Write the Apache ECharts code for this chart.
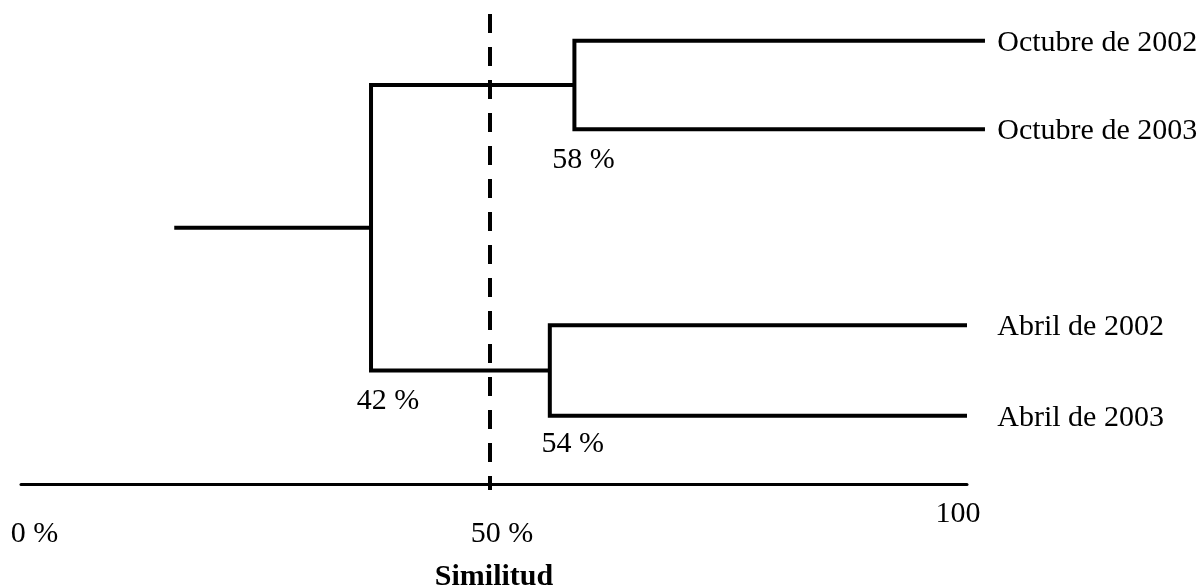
<!DOCTYPE html>
<html>
<head>
<meta charset="utf-8">
<script src="https://cdn.jsdelivr.net/npm/echarts@6/dist/echarts.min.js"></script>
<style>
html,body{margin:0;padding:0;background:#fff;}
#chart{width:1202px;height:588px;}
</style>
</head>
<body>
<div id="chart"></div>
<script>
// ---- data ----
const leafNames = ['Octubre de 2002', 'Octubre de 2003', 'Abril de 2002', 'Abril de 2003'];
const leafRow = [9.43, 7.55, 3.38, 1.45];          // vertical leaf positions (hidden axis units)
const leafReach = [101.9, 101.9, 100, 100];        // where each leaf branch ends on the similarity axis
const mergeA = [0, 2, 4];                          // first child (0-3 leaves, 4+ merges)
const mergeB = [1, 3, 5];                          // second child
const mergeLevel = [58.5, 55.9, 37.0];             // drawn similarity of each join
const mergeText = ['58 %', '54 %', '42 %'];
const rootStart = 16.2;
const cutLevel = 49.6;
const cutSpan = [10, -0.13];                       // vertical extent of the cut line (hidden axis units)
const labelColumn = 103.2;
const xTickValues = [0, 50, 100];
const xTickText = ['0 %', '50 %', '100'];
const axisTitle = 'Similitud';

// ---- styles ----
const FONT = "'Liberation Serif', 'Times New Roman', serif";
const nodeLabelOffset = [[9, 0], [23, -3], [17, 0]];

// ---- build dendrogram geometry from the data ----
const posX = leafReach.slice();
const posY = leafRow.slice();
const branches = [];
mergeLevel.forEach((h, k) => {
  const a = mergeA[k], b = mergeB[k];
  branches.push({coords: [[posX[a], posY[a]], [h, posY[a]], [h, posY[b]], [posX[b], posY[b]]]});
  posX.push(h);
  posY.push((posY[a] + posY[b]) / 2);
});
const rootIdx = posX.length - 1;
branches.push({coords: [[rootStart, posY[rootIdx]], [posX[rootIdx], posY[rootIdx]]]});

const nodeLabels = mergeLevel.map((h, k) => ({
  value: [h, Math.min(posY[mergeA[k]], posY[mergeB[k]])],
  label: {formatter: mergeText[k], offset: nodeLabelOffset[k]}
}));
const leafLabels = leafNames.map((n, i) => ({value: [labelColumn, leafRow[i]], label: {formatter: n}}));

const richTicks = {
  a: {fontFamily: FONT, fontSize: 30, color: '#000', padding: [20, 0, 0, 27]},
  b: {fontFamily: FONT, fontSize: 30, color: '#000', padding: [20, 0, 0, 16]},
  c: {fontFamily: FONT, fontSize: 30, color: '#000', padding: [0, 18, 0, 0]}
};
const tickKey = ['a', 'b', 'c'];

const chart = echarts.init(document.getElementById('chart'), null, {renderer: 'canvas'});
chart.setOption({
  backgroundColor: '#fff',
  animation: false,
  grid: {left: 21, right: 235, top: 14, bottom: 104, containLabel: false, outerBoundsMode: 'none'},
  xAxis: {
    type: 'value', min: 0, max: 100, interval: 50,
    axisLine: {show: true, lineStyle: {color: '#000', width: 3}},
    axisTick: {show: false},
    splitLine: {show: false},
    axisLabel: {
      margin: 15,
      showMinLabel: true, showMaxLabel: true,
      formatter: v => {
        const i = xTickValues.indexOf(v);
        return i < 0 ? '' : '{' + tickKey[i] + '|' + xTickText[i] + '}';
      },
      rich: richTicks
    },
    name: axisTitle,
    nameLocation: 'middle',
    nameGap: 78,
    nameTextStyle: {fontFamily: FONT, fontSize: 30, fontWeight: 'bold', color: '#000'}
  },
  yAxis: {type: 'value', min: 0, max: 10, show: false},
  series: [
    {
      type: 'lines',
      coordinateSystem: 'cartesian2d',
      polyline: true,
      clip: false,
      silent: true,
      lineStyle: {color: '#000', width: 4, opacity: 1, join: 'miter', cap: 'butt'},
      data: branches
    },
    {
      type: 'lines',
      coordinateSystem: 'cartesian2d',
      clip: false,
      silent: true,
      lineStyle: {color: '#000', width: 4, opacity: 1, type: [19, 14], cap: 'butt'},
      data: [{coords: [[cutLevel, cutSpan[0]], [cutLevel, cutSpan[1]]]}]
    },
    {
      type: 'scatter',
      symbolSize: 0,
      clip: false,
      silent: true,
      itemStyle: {opacity: 1},
      data: nodeLabels,
      label: {show: true, position: 'bottom', distance: 16, fontFamily: FONT, fontSize: 30, color: '#000', opacity: 1}
    },
    {
      type: 'scatter',
      symbolSize: 0,
      clip: false,
      silent: true,
      itemStyle: {opacity: 1},
      data: leafLabels,
      label: {show: true, position: 'right', distance: 0, offset: [0, 2], fontFamily: FONT, fontSize: 30, color: '#000', opacity: 1}
    }
  ]
});
</script>
</body>
</html>
